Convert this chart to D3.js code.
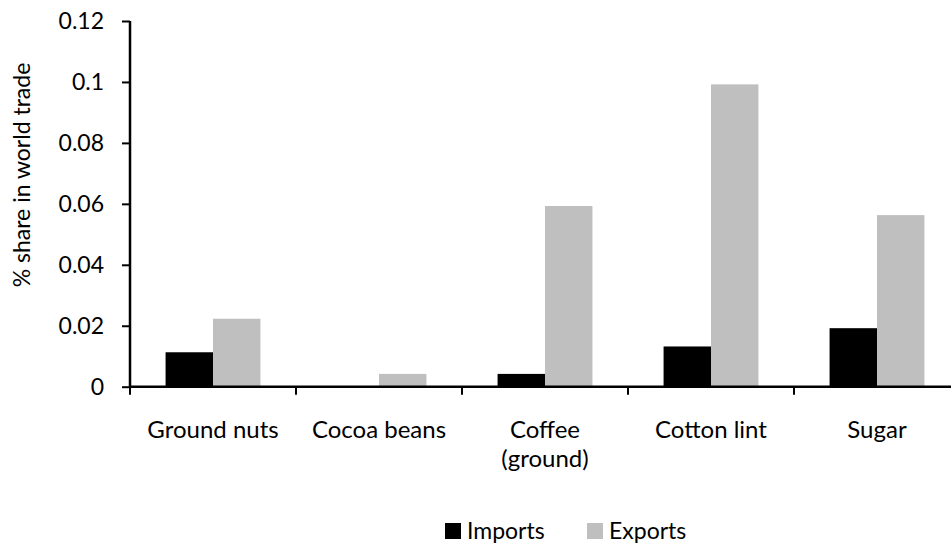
<!DOCTYPE html>
<html><head><meta charset="utf-8">
<script src="https://cdn.jsdelivr.net/npm/d3@7"></script>
<style>body{margin:0;background:#fff}svg{display:block}text{font-family:Lato,"Open Sans",sans-serif;fill:#000}</style>
</head><body><svg id="c" width="951" height="543"></svg>
<script>
const categories = [["Ground nuts"],["Cocoa beans"],["Coffee","(ground)"],["Cotton lint"],["Sugar"]];
const seriesNames = ["Imports","Exports"];
const imports = [0.0113, 0, 0.0042, 0.0132, 0.0192];
const exports_ = [0.0223, 0.0042, 0.0593, 0.0992, 0.0563];
const yTicks = [0, 0.02, 0.04, 0.06, 0.08, 0.1, 0.12];
const colors = ["#000000", "#bfbfbf"];

const svg = d3.select("#c");
const fs = 23;
const fsX = 24;
const x = d3.scaleBand().domain(d3.range(categories.length)).range([130, 960]).paddingInner(0).paddingOuter(0);
const y = d3.scaleLinear().domain([0, 0.12]).range([386.7, 21]);
const barW = x.bandwidth() / 3.5;

const data = [imports, exports_];
data.forEach((vals, si) => {
  svg.append("g").selectAll("rect").data(vals).join("rect")
    .attr("x", (d, i) => x(i) + x.bandwidth() / 2 - barW + si * barW)
    .attr("y", d => y(d))
    .attr("width", barW)
    .attr("height", d => y(0) - y(d))
    .attr("fill", colors[si]);
});

// y axis
const ya = svg.append("g").attr("transform", "translate(130,0)")
  .call(d3.axisLeft(y).tickValues(yTicks).tickSize(8).tickPadding(18).tickFormat(d => d === 0 ? "0" : String(+d.toFixed(2))));
ya.select(".domain").attr("stroke-width", 2.5).attr("d", `M0,${y(0.12)}V${y(0)}`);
ya.selectAll(".tick line").attr("stroke-width", 2);
ya.selectAll("text").style("font-size", fs + "px").style("font-family", "Lato,'Open Sans',sans-serif");

// x axis
const xa = svg.append("g").attr("transform", `translate(0,${y(0)})`);
xa.append("line").attr("x1", 129).attr("x2", 951).attr("y1", 0).attr("y2", 0).attr("stroke", "#000").attr("stroke-width", 2.5);
const tickPos = d3.range(categories.length + 1).map(i => 130 + i * x.bandwidth());
xa.selectAll(".xt").data(tickPos).join("line").attr("class", "xt")
  .attr("x1", d => d).attr("x2", d => d).attr("y1", 0).attr("y2", 8).attr("stroke", "#000").attr("stroke-width", 2);
categories.forEach((lines, i) => {
  const t = xa.append("text").attr("text-anchor", "middle").style("font-size", fsX + "px")
    .attr("x", x(i) + x.bandwidth() / 2).attr("y", 51);
  lines.forEach((l, j) => t.append("tspan").attr("x", x(i) + x.bandwidth() / 2).attr("dy", j === 0 ? 0 : 29).text(l));
});

// y label
svg.append("text").attr("transform", "translate(30,175) rotate(-90)").attr("text-anchor", "middle")
  .style("font-size", fs + "px").text("% share in world trade");

// legend
const leg = [{x: 445, tx: 467}, {x: 587, tx: 609}];
seriesNames.forEach((n, i) => {
  svg.append("rect").attr("x", leg[i].x).attr("y", 523).attr("width", 16).attr("height", 16).attr("fill", colors[i]);
  svg.append("text").attr("x", leg[i].tx).attr("y", 539).style("font-size", fs + "px").text(n);
});
</script></body></html>
